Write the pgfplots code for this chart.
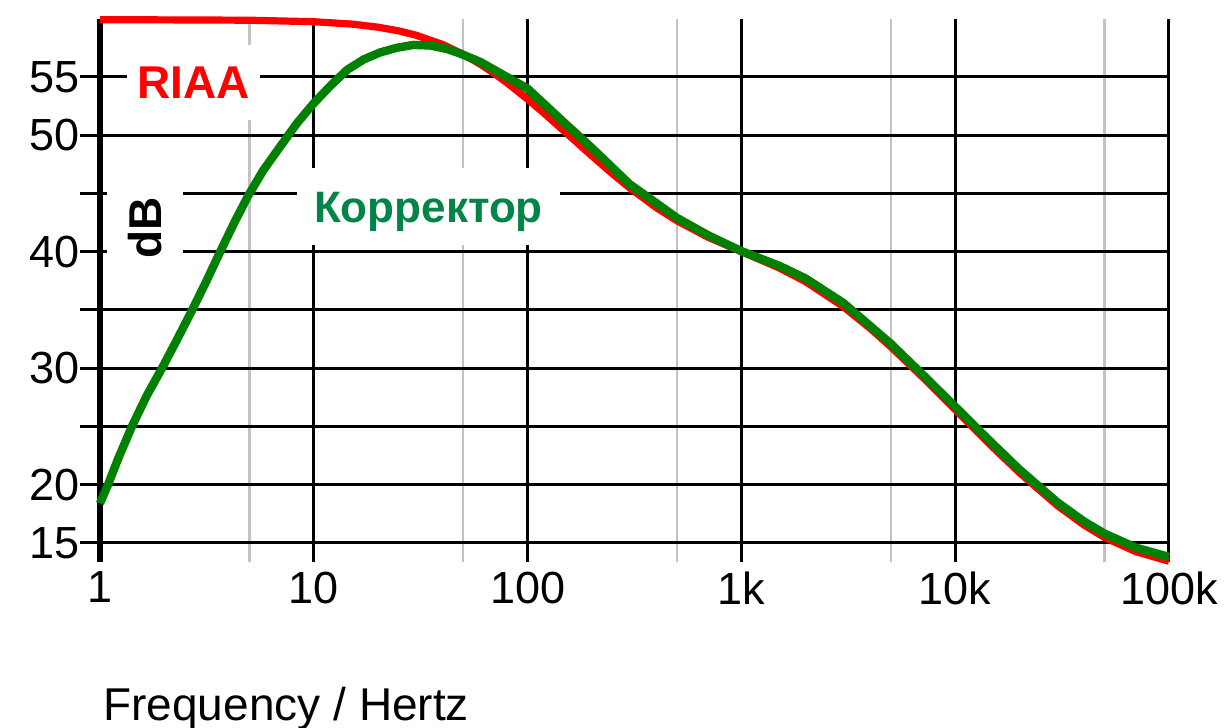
\documentclass[border=0pt]{standalone}
\usepackage{fontspec}
\setmainfont{Liberation Sans}
\usepackage{pgfplots}
\pgfplotsset{compat=1.18}
\definecolor{riaared}{RGB}{255,0,0}
\definecolor{corrgreen}{RGB}{0,128,0}
\definecolor{labelgreen}{RGB}{0,132,72}
\definecolor{gridgray}{RGB}{195,195,195}
\begin{document}
\begin{tikzpicture}
\begin{axis}[
  at={(50pt,83.2pt)}, anchor=south west,
  scale only axis, width=534.5pt, height=271.45pt,
  xmode=log, log basis x=10,
  xmin=1, xmax=100000, ymin=13.4, ymax=60,
  xtick={1,10,100,1000,10000,100000},
  xticklabels={1,10,100,1k,10k,100k},
  minor xtick={5,50,500,5000,50000},
  ytick={15,20,25,30,35,40,45,50,55},
  yticklabels={15,20,,30,,40,,50,55},
  xmajorgrids, xminorgrids, ymajorgrids,
  major x grid style={black, line width=1.5pt},
  minor x grid style={gridgray, line width=1.2pt},
  major y grid style={black, line width=1.5pt},
  axis line style={draw=none},
  xtick style={draw=none},
  minor x tick style={draw=none},
  ytick pos=left, xtick pos=bottom,
  ytick align=outside, xtick align=inside,
  major tick length=10pt,
  ytick style={black, line width=1.5pt},
  tick label style={font=\fontsize{22.5}{26}\selectfont, text=black},
  yticklabel style={inner sep=0pt},
  xticklabel style={inner sep=0pt, yshift=-5pt},
  /pgf/number format/assume math mode=true,
  clip=false,
]
\draw[line width=3pt] (rel axis cs:0,0) -- (rel axis cs:0,1);
\node[fill=white, inner sep=0pt, minimum width=66.5pt, minimum height=37.5pt,
      text height=16.5pt, text depth=0pt, text=riaared,
      font=\bfseries\fontsize{23}{26}\selectfont]
      at (rel axis cs:0.0875,0.8825) {RIAA};
\node[fill=white, inner sep=0pt, minimum width=131.5pt, minimum height=38.5pt,
      text height=15.8pt, text depth=0pt, text=labelgreen,
      font=\bfseries\fontsize{22}{26}\selectfont]
      at (rel axis cs:0.3073,0.6541) {Корректор};
\node[fill=white, inner sep=0pt, minimum width=50pt, minimum height=38pt,
      text height=16.5pt, text depth=0pt, rotate=90, text=black,
      font=\bfseries\fontsize{23}{26}\selectfont]
      at (rel axis cs:0.0421,0.6145) {dB};
\addplot[riaared, line width=3.6pt, line join=round, no markers] coordinates {
(1,59.91) (2,59.90) (5,59.87) (10,59.74) (15,59.54) (20,59.27) (25,58.95)
(30,58.59) (40,57.79) (50,56.94) (60,56.10) (70,55.28) (80,54.50)
(100,53.09) (120,51.85) (150,50.27) (200,48.22) (250,46.67) (300,45.48)
(400,43.78) (500,42.65) (700,41.23) (1000,40.00) (1500,38.61) (2000,37.42)
(3000,35.27) (4000,33.42) (5000,31.83) (7000,29.27) (10000,26.43)
(15000,23.21) (20000,21.02) (30000,18.22) (40000,16.54) (50000,15.46)
(70000,14.25) (100000,13.43)
};
\addplot[corrgreen, line width=4.2pt, line join=round, no markers] coordinates {
(1,18.4) (1.09,20) (1.22,22.3) (1.41,25) (1.65,27.6) (1.95,30) (2.3,32.5)
(2.7,35) (3.15,37.5) (3.65,40) (4.25,42.5) (4.93,44.8)
(5.81,47.0) (6.95,49.0) (8.32,51.0) (9.95,52.7) (11.9,54.2) (14.3,55.6)
(17.1,56.5) (20.4,57.1) (24.4,57.5) (29.2,57.75) (35,57.7) (42,57.4)
(48.5,57.0) (60,56.3) (80,55.0) (100,54.0) (150,51.0) (200,48.9)
(300,45.8) (500,42.9) (700,41.4) (1000,40.05) (1500,38.8) (2000,37.7)
(3000,35.6) (5000,32.1) (7000,29.5) (10000,26.7) (15000,23.5)
(20000,21.3) (30000,18.5) (40000,16.85) (50000,15.8) (70000,14.6)
(100000,13.8)
};
\end{axis}
\node[anchor=base west, inner sep=0pt, font=\fontsize{23}{26}\selectfont]
  at (51.5pt,3.5pt) {Frequency / Hertz};
\pgfresetboundingbox
\useasboundingbox (0,0) rectangle (613pt,364pt);
\end{tikzpicture}
\end{document}
